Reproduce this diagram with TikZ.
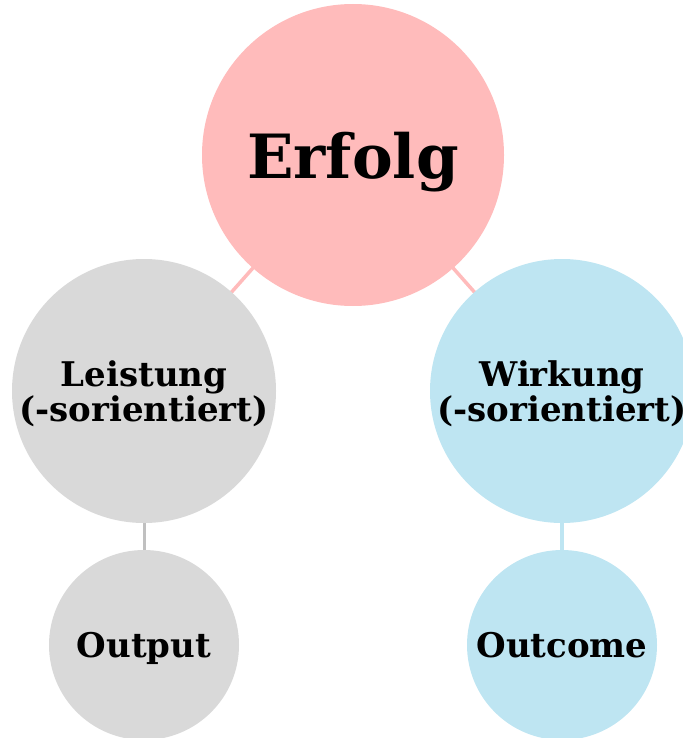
\documentclass[tikz,border=0pt]{standalone}
\usepackage{fontspec}
\setmainfont{DejaVu Serif}
\usetikzlibrary{positioning}

\definecolor{erfolgpink}{HTML}{FFBBBB}
\definecolor{leistgray}{HTML}{D9D9D9}
\definecolor{wirkblue}{HTML}{BEE5F2}
\definecolor{linegray}{HTML}{C0C0C0}

\begin{document}
\begin{tikzpicture}[x=1pt,y=-1pt,
   bubble/.style={circle, inner sep=0pt, align=center, text depth=0pt},
   big/.style={bubble, minimum size=302pt, fill=erfolgpink, font=\bfseries\fontsize{61}{64}\selectfont},
   mid/.style={bubble, minimum size=264pt, font=\bfseries\fontsize{34}{32}\selectfont},
   small/.style={bubble, minimum size=190pt, font=\bfseries\fontsize{34}{32}\selectfont},
   link/.style={line width=3.5pt}]
\useasboundingbox (0,0) rectangle (682,738);
% links first, circles on top
\coordinate (cE) at (353,155);
\coordinate (cL) at (144,391);
\coordinate (cW) at (562,391);
\coordinate (cO) at (144,645);
\coordinate (cU) at (562,645);
\draw[link, erfolgpink] (cE) -- (cL);
\draw[link, erfolgpink] (cE) -- (cW);
\draw[link, linegray, line width=3pt] (cL) -- (cO);
\draw[link, wirkblue] (cW) -- (cU);
% circles
\node[big] (erfolg) at (cE) {Erfolg};
\node[mid, fill=leistgray] (leistung) at (cL) {Leistung\\(-sorientiert)};
\node[mid, fill=wirkblue] (wirkung) at (cW) {Wirkung\\(-sorientiert)};
\node[small, fill=leistgray] (output) at (cO) {Output};
\node[small, fill=wirkblue] (outcome) at (cU) {Outcome};
\end{tikzpicture}
\end{document}
